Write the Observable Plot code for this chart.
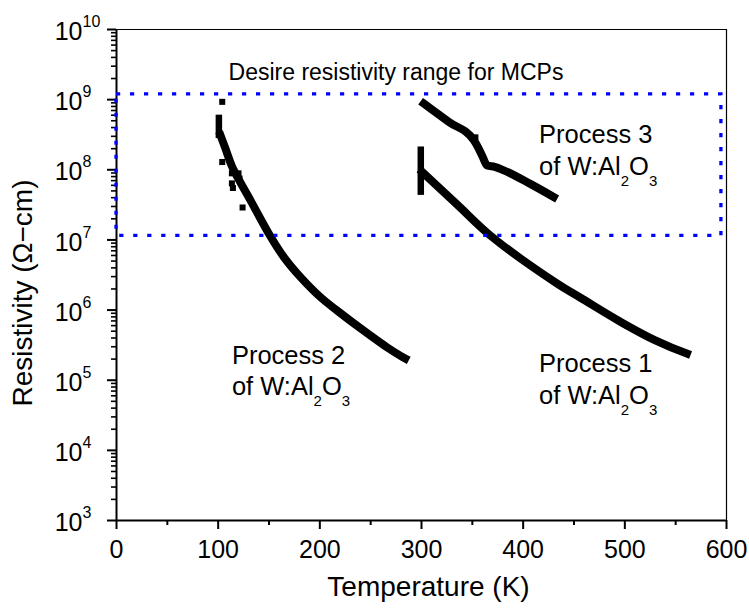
<!DOCTYPE html>
<html>
<head>
<meta charset="utf-8">
<script src="https://cdn.jsdelivr.net/npm/d3@7"></script>
<script src="https://cdn.jsdelivr.net/npm/@observablehq/plot@0.6"></script>
<style>
  html, body { margin: 0; padding: 0; background: #fff; }
  #chart { width: 749px; height: 609px; }
</style>
</head>
<body>
<div id="chart"></div>
<script>
// ---- Data ----
// Process 1 (T in K, resistivity in Ω·cm)
const p1T = [300.7, 335, 369.5, 433.5, 456.4, 499, 530, 561];
const p1R = [9.3e7, 3.2e7, 1.1e7, 2.38e6, 1.5e6, 6.4e5, 3.7e5, 2.4e5];
// Process 2
const p2T = [102.3, 107.2, 113.8, 131.8, 151.5, 164.6, 181, 200.6, 223.6, 240, 266, 279, 284];
const p2R = [3.09e8, 2.0e8, 1.1e8, 3.67e7, 1.12e7, 5.7e6, 2.95e6, 1.53e6, 8.3e5, 5.5e5, 2.95e5, 2.24e5, 2.04e5];
// Process 3
const p3T = [302.3, 327, 351.5, 356, 360, 364.6, 372, 381, 407, 430];
const p3R = [8.8e8, 4.8e8, 2.63e8, 2.04e8, 1.55e8, 1.15e8, 1.1e8, 9.8e7, 6.3e7, 4.1e7];
// vertical columns of points at the start of runs
const colT = [100.7, 299.3];
const colLo = [3.1e8, 4.8e7];
const colHi = [5.4e8, 1.9e8];
// scattered single points
const outT = [104, 104, 113.5, 113.5, 114.5, 120, 121, 124, 353];
const outR = [9.3e8, 1.29e8, 8.9e7, 6.4e7, 5.5e7, 8.9e7, 7.5e7, 2.9e7, 2.9e8];
// desired range box
const boxT = [0, 595];
const boxR = [1.14e7, 1.19e9];
// ticks
const xTicks = [0, 100, 200, 300, 400, 500, 600];
const xMinor = [50, 150, 250, 350, 450, 550];
const yTicks = [1e3, 1e4, 1e5, 1e6, 1e7, 1e8, 1e9, 1e10];
const yMinor = yTicks.slice(0, -1).flatMap(d => [2,3,4,5,6,7,8,9].map(m => m * d));
// annotations
const noteText = ["Desire resistivity range for MCPs", "Process 3", "of W:Al_2O_3", "Process 1", "of W:Al_2O_3", "Process 2", "of W:Al_2O_3"];
const noteT = [110.2, 415.6, 415.6, 415.6, 415.6, 113.5, 113.5];
const noteR = [1.92e9, 2.37e8, 8.36e7, 1.31e5, 4.6e4, 1.68e5, 6.07e4];
const noteSize = [23, 25.5, 25.5, 25.5, 25.5, 25.5, 25.5];

const series = (T, R) => T.map((t, i) => ({T: t, R: R[i]}));
const cols = colT.map((t, i) => ({T: t, lo: colLo[i], hi: colHi[i]}));
const notes = noteText.map((s, i) => ({s, T: noteT[i], R: noteR[i], size: noteSize[i]}));

const lineOpts = {x: "T", y: "R", stroke: "black", strokeWidth: 8, strokeLinecap: "square", strokeLinejoin: "round", curve: "catmull-rom"};

// frame size (for tick insets)
const W = 749, H = 609, mL = 116, mR = 23, mT = 29, mB = 89;
const fw = W - mL - mR, fh = H - mT - mB;

const svg = Plot.plot({
  width: W,
  height: H,
  marginLeft: mL,
  marginRight: mR,
  marginTop: mT,
  marginBottom: mB,
  style: {fontFamily: "'Liberation Sans', Arial, sans-serif", background: "white", color: "black"},
  x: {domain: [0, 600], label: null, axis: null},
  y: {type: "log", domain: [1e3, 1e10], label: null, axis: null},
  marks: [
    Plot.line(series(p1T, p1R), lineOpts),
    Plot.line(series(p2T, p2R), lineOpts),
    Plot.line(series(p3T, p3R), {...lineOpts, curve: "monotone-x"}),
    Plot.ruleX(cols, {x: "T", y1: "lo", y2: "hi", stroke: "black", strokeWidth: 6.5, strokeLinecap: "square"}),
    Plot.dot(series(outT, outR), {x: "T", y: "R", symbol: "square", r: 3.4, fill: "black", stroke: "none"}),
    // ticks (outward)
    Plot.tickX(xTicks, {x: d => d, insetTop: fh - 9, dy: 9, stroke: "black", strokeWidth: 2}),
    Plot.tickX(xMinor, {x: d => d, insetTop: fh - 5, dy: 5, stroke: "black", strokeWidth: 2}),
    Plot.tickY(yTicks, {y: d => d, insetRight: fw - 9, dx: -9, stroke: "black", strokeWidth: 2}),
    Plot.tickY(yMinor, {y: d => d, insetRight: fw - 5, dx: -5, stroke: "black", strokeWidth: 1.6}),
    // tick labels
    Plot.text(xTicks, {x: d => d, frameAnchor: "bottom", textAnchor: "middle", lineAnchor: "bottom", dy: 37.3, fontSize: 25, text: d => String(d)}),
    Plot.text(yTicks, {y: d => d, frameAnchor: "left", textAnchor: "start", lineAnchor: "bottom", dx: -61.8, dy: 10.7, fontSize: 25, text: d => "10^" + Math.round(Math.log10(d))}),
    // frame
    Plot.ruleX([0], {stroke: "black", strokeWidth: 2}),
    Plot.ruleY([1e3], {stroke: "black", strokeWidth: 2}),
    Plot.ruleX([600], {stroke: "black", strokeWidth: 1.2}),
    Plot.ruleY([1e10], {stroke: "black", strokeWidth: 1.2}),
    // desired range box
    Plot.rect([{x1: boxT[0], x2: boxT[1], y1: boxR[0], y2: boxR[1]}], {x1: "x1", x2: "x2", y1: "y1", y2: "y2", fill: "none", stroke: "#0000ff", strokeWidth: 3.3, strokeDasharray: "4.2,9.8"}),
    // annotations
    Plot.text(notes, {x: "T", y: "R", text: "s", fontSize: "size", textAnchor: "start", lineAnchor: "bottom", fill: "black"}),
    // axis titles
    Plot.text(["Temperature (K)"], {frameAnchor: "bottom", text: d => d, textAnchor: "middle", lineAnchor: "bottom", dy: 75, dx: 7, fontSize: 28}),
    Plot.text(["Resistivity (Ω−cm)"], {frameAnchor: "left", text: d => d, textAnchor: "middle", lineAnchor: "middle", rotate: -90, dx: -93, dy: 18, fontSize: 28})
  ]
});

// Render sub/superscripts as real tspans
svg.querySelectorAll("text").forEach(t => {
  const s = t.textContent;
  if (!/[_^]\d/.test(s)) return;
  const parts = s.split(/([_^]\d+)/).filter(p => p !== "");
  t.textContent = "";
  let shift = 0;
  for (const p of parts) {
    const ts = document.createElementNS("http://www.w3.org/2000/svg", "tspan");
    let target = 0, size = null, txt = p;
    if (p[0] === "_") { target = 11; size = 15; txt = p.slice(1); }
    else if (p[0] === "^") { target = -13; size = 16; txt = p.slice(1); }
    const d = target - shift;
    if (d) ts.setAttribute("dy", d);
    if (size) ts.setAttribute("font-size", size);
    ts.textContent = txt;
    t.appendChild(ts);
    shift = target;
  }
});

document.getElementById("chart").appendChild(svg);
</script>
</body>
</html>
